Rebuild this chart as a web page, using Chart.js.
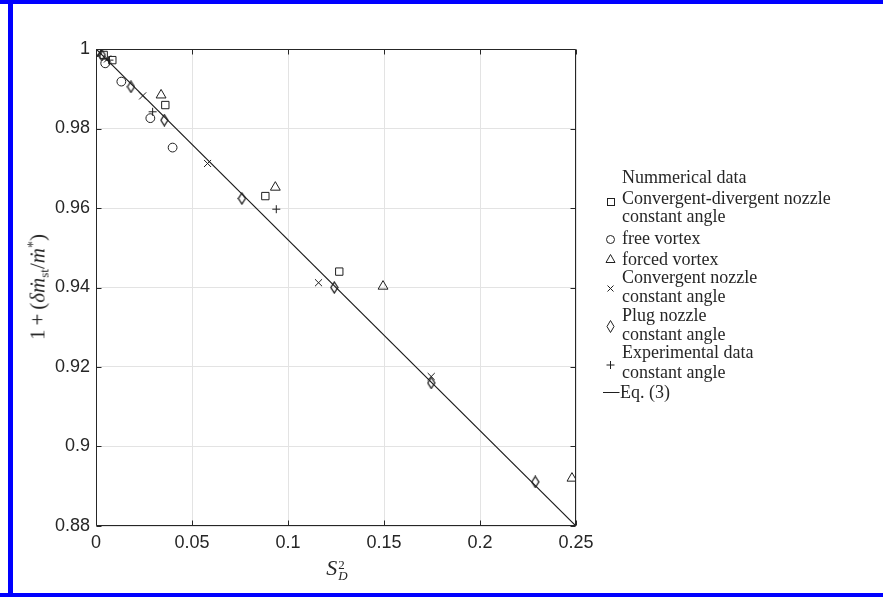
<!DOCTYPE html>
<html><head><meta charset="utf-8">
<script src="https://cdn.jsdelivr.net/npm/chart.js@4.4.1/dist/chart.umd.min.js"></script>
<style>
html,body{margin:0;padding:0;background:#fff;}
#wrap{position:relative;width:883px;height:597px;overflow:hidden;background:#fff;}
#cv{position:absolute;left:0;top:0;}
.fr{position:absolute;background:#0000ff;}
.lg{position:absolute;left:622px;font-family:"Liberation Serif","DejaVu Serif",serif;font-size:18px;line-height:20px;height:20px;color:#262626;white-space:nowrap;}
.mk{position:absolute;}
#ytitle{position:absolute;left:39px;top:287px;transform:translate(-50%,-50%) rotate(-90deg);font-family:"Liberation Serif","DejaVu Serif",serif;font-size:21px;color:#262626;white-space:nowrap;line-height:24px;}
#ytitle sub{font-size:13px;font-style:normal;vertical-align:-4px;}
#ytitle sup{font-size:14px;vertical-align:7px;}
#ytitle .op{padding:0 4px;}
#xtitle{position:absolute;left:337px;top:568px;transform:translate(-50%,-50%);font-family:"Liberation Serif","DejaVu Serif",serif;font-size:22px;color:#262626;white-space:nowrap;line-height:28px;}
.stk{display:inline-block;vertical-align:middle;line-height:11px;font-size:13px;margin-left:1px;}
.stk span{display:block;}
</style>
</head><body>
<div id="wrap">
<canvas id="cv" width="883" height="597"></canvas>
<div class="fr" style="left:0;top:0;width:883px;height:4px;"></div>
<div class="fr" style="left:0;top:593px;width:883px;height:4px;"></div>
<div class="fr" style="left:8px;top:0;width:5px;height:597px;"></div>

<div id="ytitle">1<span class="op">+</span>(<i>δṁ</i><sub>st</sub>/<i>ṁ</i><sup>*</sup>)</div>
<div id="xtitle"><i>S</i><span class="stk"><span>2</span><span><i>D</i></span></span></div>

<div class="lg" style="top:167px">Nummerical data</div>
<div class="lg" style="top:187.5px">Convergent-divergent nozzle</div>
<div class="lg" style="top:206px">constant angle</div>
<div class="lg" style="top:227.5px">free vortex</div>
<div class="lg" style="top:248.5px">forced vortex</div>
<div class="lg" style="top:266.5px">Convergent nozzle</div>
<div class="lg" style="top:286px">constant angle</div>
<div class="lg" style="top:304.5px">Plug nozzle</div>
<div class="lg" style="top:324px">constant angle</div>
<div class="lg" style="top:342px">Experimental data</div>
<div class="lg" style="top:361.5px">constant angle</div>
<div class="lg" style="top:382px;left:620px">Eq. (3)</div>

<svg class="mk" style="left:600px;top:160px" width="24" height="250" viewBox="600 160 24 250">
 <g fill="none" stroke="#1f1f1f" stroke-width="1">
  <rect x="607.5" y="198.5" width="7" height="7"/>
  <circle cx="610.5" cy="239.5" r="4"/>
  <polygon points="610.5,254.5 615,262.5 606,262.5"/>
  <path d="M607.5,285.5 L613.5,291.5 M613.5,285.5 L607.5,291.5"/>
  <polygon points="610.5,320.5 614,326.5 610.5,332.5 607,326.5"/>
  <path d="M610.5,361 L610.5,369 M606.5,365 L614.5,365"/>
  <path d="M603,392.5 L619.5,392.5"/>
 </g>
</svg>
</div>
<script>
// ---- tick values / labels ----
const xTicks = [0, 0.05, 0.1, 0.15, 0.2, 0.25];
const xTickLabels = ['0', '0.05', '0.1', '0.15', '0.2', '0.25'];
const yTicks = [0.88, 0.9, 0.92, 0.94, 0.96, 0.98, 1];
const yTickLabels = ['0.88', '0.9', '0.92', '0.94', '0.96', '0.98', '1'];

// ---- series (S_D^2 , 1 + dm/m*) ----
const cdNozzleX = [0.004, 0.0085, 0.0361, 0.0882, 0.1267];
const cdNozzleY = [0.9985, 0.9972, 0.9859, 0.9630, 0.9440];

const freeVortexX = [0.0008, 0.0048, 0.0132, 0.0283, 0.0399];
const freeVortexY = [0.9993, 0.9964, 0.9918, 0.9826, 0.9752];

const forcedVortexX = [0.0339, 0.0934, 0.1495, 0.2479];
const forcedVortexY = [0.9884, 0.9652, 0.9403, 0.8920];

const convNozzleX = [0.006, 0.0243, 0.0581, 0.1159, 0.1746];
const convNozzleY = [0.9975, 0.9882, 0.9712, 0.9412, 0.9176];

const plugNozzleX = [0.0008, 0.003, 0.0182, 0.0356, 0.0760, 0.1241, 0.1746, 0.2288];
const plugNozzleY = [0.9996, 0.9985, 0.9905, 0.9821, 0.9624, 0.9400, 0.9160, 0.8911];

const experimentX = [0.007, 0.0295, 0.0939];
const experimentY = [0.9972, 0.9842, 0.9597];

const eq3X = [0, 0.25];
const eq3Y = [1, 0.88];

const pts = (xs, ys) => xs.map((x, i) => ({x: x, y: ys[i]}));

const INK = '#1f1f1f';
const AXIS = '#262626';

function diamondImg() {
  const c = document.createElement('canvas');
  c.width = 9; c.height = 13;
  const g = c.getContext('2d');
  g.strokeStyle = INK; g.lineWidth = 1.3;
  g.beginPath();
  g.moveTo(4.5, 1); g.lineTo(8, 6.5); g.lineTo(4.5, 12); g.lineTo(1, 6.5); g.closePath();
  g.stroke();
  return c;
}

const markerDs = (label, data, style, r) => ({
  label, data, pointStyle: style, pointRadius: r, pointHoverRadius: r,
  borderColor: INK, backgroundColor: 'rgba(0,0,0,0)', pointBorderWidth: 1,
  showLine: false, order: 0
});

const boxPlugin = {
  id: 'boxTicks',
  afterDraw(chart) {
    const {ctx, chartArea: a, scales} = chart;
    const xs = scales.x, ys = scales.y;
    const L = Math.round(a.left) + 0.5, R = Math.round(a.right) - 0.5;
    const T = Math.round(a.top) + 0.5, B = Math.round(a.bottom) - 0.5;
    ctx.save();
    ctx.strokeStyle = AXIS; ctx.lineWidth = 1;
    ctx.beginPath();
    ctx.rect(L, T, R - L, B - T);
    xTicks.forEach(v => {
      const p = Math.round(xs.getPixelForValue(v)) + 0.5;
      ctx.moveTo(p, B); ctx.lineTo(p, B - 5);
      ctx.moveTo(p, T); ctx.lineTo(p, T + 5);
    });
    yTicks.forEach(v => {
      const p = Math.round(ys.getPixelForValue(v)) + 0.5;
      ctx.moveTo(L, p); ctx.lineTo(L + 5, p);
      ctx.moveTo(R, p); ctx.lineTo(R - 5, p);
    });
    ctx.stroke();
    ctx.restore();
  }
};

Chart.defaults.font.family = '"Liberation Sans", Arial, sans-serif';
Chart.defaults.font.size = 18;
Chart.defaults.color = AXIS;

new Chart(document.getElementById('cv'), {
  type: 'scatter',
  data: {
    datasets: [
      markerDs('Convergent-divergent nozzle constant angle', pts(cdNozzleX, cdNozzleY), 'rect', 5.2),
      markerDs('free vortex', pts(freeVortexX, freeVortexY), 'circle', 4.4),
      markerDs('forced vortex', pts(forcedVortexX, forcedVortexY), 'triangle', 5.7),
      markerDs('Convergent nozzle constant angle', pts(convNozzleX, convNozzleY), 'crossRot', 5),
      markerDs('Plug nozzle constant angle', pts(plugNozzleX, plugNozzleY), diamondImg(), 5),
      markerDs('Experimental data constant angle', pts(experimentX, experimentY), 'cross', 4),
      {
        label: 'Eq. (3)', data: pts(eq3X, eq3Y), showLine: true, pointRadius: 0,
        borderColor: '#1a1a1a', borderWidth: 1.2, fill: false, order: 10
      }
    ]
  },
  options: {
    responsive: false,
    animation: false,
    events: [],
    layout: {padding: {left: 0, right: 307, top: 49, bottom: 0}},
    plugins: {legend: {display: false}, tooltip: {enabled: false}},
    scales: {
      x: {
        type: 'linear', min: 0, max: 0.25,
        afterBuildTicks: s => { s.ticks = xTicks.map(v => ({value: v})); },
        afterFit: s => { s.height = 71; },
        ticks: {callback: (v, i) => xTickLabels[i], padding: 6, maxRotation: 0, autoSkip: false},
        grid: {color: '#e3e3e3', drawTicks: false, lineWidth: 1},
        border: {display: false}
      },
      y: {
        type: 'linear', min: 0.88, max: 1,
        afterBuildTicks: s => { s.ticks = yTicks.map(v => ({value: v})); },
        afterFit: s => { s.width = 96; },
        ticks: {callback: (v, i) => yTickLabels[i], padding: 6, autoSkip: false},
        grid: {color: '#e3e3e3', drawTicks: false, lineWidth: 1},
        border: {display: false}
      }
    }
  },
  plugins: [boxPlugin]
});
</script>
</body></html>
